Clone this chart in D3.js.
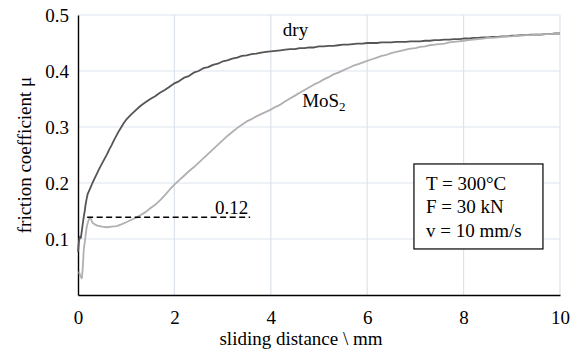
<!DOCTYPE html>
<html><head><meta charset="utf-8">
<script src="https://cdn.jsdelivr.net/npm/d3@7"></script>
<style>
html,body{margin:0;padding:0;background:#fff;}
svg text{font-family:'Liberation Serif','Times New Roman',Times,serif !important;fill:#000;}
</style></head>
<body><svg id="c" width="576" height="356" font-family="Liberation Serif"></svg>
<script>
// ---- data ----
const xTicks = [0, 2, 4, 6, 8, 10];
const yTicks = [0.1, 0.2, 0.3, 0.4, 0.5];
const dryX = [0,0.02,0.04,0.06,0.08,0.1,0.12,0.14,0.16,0.18,0.2,0.25,0.3,0.35,0.4,0.45,0.5,0.55,0.6,0.65,0.7,0.75,0.8,0.85,0.9,0.95,1.0,
1.1,1.2,1.3,1.4,1.5,1.6,1.7,1.8,1.9,2.0,2.1,2.2,2.3,2.4,2.5,2.6,2.7,2.8,2.9,3.0,3.1,3.2,3.3,3.4,3.5,3.6,3.7,3.8,3.9,4.0,
4.1,4.2,4.3,4.4,4.5,4.6,4.7,4.8,4.9,5.0,5.1,5.2,5.3,5.4,5.5,5.6,5.7,5.8,5.9,6.0,6.1,6.2,6.3,6.4,6.5,6.6,6.7,6.8,6.9,7.0,
7.1,7.2,7.3,7.4,7.5,7.6,7.7,7.8,7.9,8.0,8.1,8.2,8.3,8.4,8.5,8.6,8.7,8.8,8.9,9.0,9.1,9.2,9.3,9.4,9.5,9.6,9.7,9.8,9.9,10.0];
const dryY = [0.077,0.096,0.104,0.102,0.115,0.128,0.140,0.150,0.163,0.172,0.180,0.190,0.200,0.209,0.218,0.227,0.235,0.243,0.251,0.260,0.268,0.277,0.285,0.293,0.300,0.307,0.313,
0.322,0.330,0.338,0.344,0.350,0.355,0.361,0.366,0.372,0.378,0.382,0.388,0.391,0.397,0.400,0.405,0.407,0.411,0.413,0.417,0.419,0.422,0.424,0.427,0.428,0.430,0.431,0.433,0.434,0.435,
0.436,0.437,0.438,0.439,0.439,0.441,0.441,0.442,0.442,0.444,0.444,0.445,0.445,0.446,0.447,0.447,0.448,0.449,0.449,0.450,0.450,0.450,0.451,0.451,0.451,0.452,0.452,0.452,0.453,0.453,
0.453,0.454,0.454,0.455,0.455,0.456,0.456,0.457,0.457,0.458,0.458,0.459,0.459,0.460,0.460,0.461,0.461,0.462,0.462,0.463,0.463,0.464,0.464,0.465,0.465,0.465,0.466,0.466,0.467,0.467];
const mosX = [0.02,0.05,0.08,0.1,0.12,0.14,0.16,0.18,0.2,0.23,0.26,0.3,0.35,0.4,0.5,0.6,0.7,0.8,0.9,1.0,
1.1,1.2,1.3,1.4,1.5,1.6,1.7,1.8,1.9,2.0,2.1,2.2,2.3,2.4,2.5,2.6,2.7,2.8,2.9,3.0,3.1,3.2,3.3,3.4,3.5,3.6,3.7,3.8,3.9,4.0,
4.1,4.2,4.3,4.4,4.5,4.6,4.7,4.8,4.9,5.0,5.1,5.2,5.3,5.4,5.5,5.6,5.7,5.8,5.9,6.0,6.1,6.2,6.3,6.4,6.5,6.6,6.7,6.8,6.9,7.0,
7.1,7.2,7.3,7.4,7.5,7.6,7.7,7.8,7.9,8.0,8.1,8.2,8.3,8.4,8.5,8.6,8.7,8.8,8.9,9.0,9.1,9.2,9.3,9.4,9.5,9.6,9.7,9.8,9.9,10.0];
const mosY = [0.042,0.033,0.030,0.050,0.082,0.094,0.108,0.121,0.128,0.136,0.138,0.129,0.126,0.124,0.122,0.121,0.122,0.123,0.126,0.130,
0.134,0.138,0.143,0.148,0.155,0.161,0.169,0.178,0.188,0.197,0.205,0.213,0.221,0.228,0.236,0.244,0.252,0.260,0.268,0.276,0.284,0.291,0.298,0.304,0.310,0.314,0.319,0.323,0.327,0.331,
0.336,0.340,0.346,0.351,0.356,0.361,0.366,0.371,0.376,0.380,0.385,0.389,0.394,0.397,0.401,0.405,0.409,0.412,0.415,0.418,0.421,0.424,0.427,0.429,0.432,0.434,0.436,0.438,0.440,0.441,
0.443,0.444,0.446,0.447,0.448,0.449,0.451,0.452,0.453,0.454,0.455,0.456,0.457,0.458,0.459,0.459,0.460,0.461,0.462,0.462,0.463,0.463,0.464,0.464,0.465,0.465,0.466,0.466,0.467,0.467];
const refLine = {x0: 0.19, x1: 3.57, y: 0.139, label: "0.12"};
const conditions = ["T = 300°C", "F = 30 kN", "v = 10 mm/s"];

// ---- chart ----
const FONT = "'Liberation Serif', 'Times New Roman', serif";
const svg = d3.select("#c");
const m = {l: 78, t: 15, r: 16, b: 61};
const W = 576 - m.l - m.r, H = 356 - m.t - m.b;
const x = d3.scaleLinear().domain([0, 10]).range([m.l, m.l + W]);
const y = d3.scaleLinear().domain([0, 0.5]).range([m.t + H, m.t]);
const gridC = "#dde3eb";

// grid
svg.append("g").selectAll("line").data(yTicks).join("line")
  .attr("x1", x(0)).attr("x2", x(10)).attr("y1", d => y(d)).attr("y2", d => y(d))
  .attr("stroke", gridC).attr("stroke-width", 1.2);
svg.append("g").selectAll("line").data(xTicks.filter(d => d > 0)).join("line")
  .attr("x1", d => x(d)).attr("x2", d => x(d)).attr("y1", y(0)).attr("y2", y(0.5))
  .attr("stroke", gridC).attr("stroke-width", 1.2);

// axes
const xAxis = svg.append("g").attr("transform", `translate(0,${y(0)})`)
  .call(d3.axisBottom(x).tickValues(xTicks).tickSize(0).tickPadding(15.5).tickFormat(d3.format("d")));
const yAxis = svg.append("g").attr("transform", `translate(${x(0)},0)`)
  .call(d3.axisLeft(y).tickValues(yTicks).tickSize(0).tickPadding(9).tickFormat(d3.format(".1f")));
[xAxis, yAxis].forEach(g => {
  g.attr("font-family", null).attr("font-size", null);
  g.select(".domain").attr("stroke", "#000").attr("stroke-width", 1.4);
  g.selectAll("text").style("font-size", "19px").style("font-family", FONT).attr("fill", "#000");
});

// series
const line = d3.line().x(d => x(d[0])).y(d => y(d[1]));
const dry = dryX.map((v, i) => [v, dryY[i]]);
const mos = mosX.map((v, i) => [v, mosY[i]]);
svg.append("path").datum(dry).attr("d", line).attr("fill", "none")
  .attr("stroke", "#555").attr("stroke-width", 1.8).attr("stroke-linejoin", "round");
svg.append("path").datum(mos).attr("d", line).attr("fill", "none")
  .attr("stroke", "#b0b0b0").attr("stroke-width", 1.8).attr("stroke-linejoin", "round");

function label(sel, size) { return sel.style("font-family", FONT).style("font-size", size + "px"); }

// reference dashed line
svg.append("line").attr("x1", x(refLine.x0)).attr("x2", x(refLine.x1))
  .attr("y1", y(refLine.y)).attr("y2", y(refLine.y))
  .attr("stroke", "#000").attr("stroke-width", 1.5).attr("stroke-dasharray", "6,3.5");
label(svg.append("text").attr("x", x(2.84)).attr("y", y(0.145)), 19).text(refLine.label);

// curve labels
label(svg.append("text").attr("x", x(4.25)).attr("y", y(0.4625)), 19).text("dry");
const ml = label(svg.append("text").attr("x", x(4.65)).attr("y", y(0.336)), 19);
ml.append("tspan").text("MoS");
ml.append("tspan").style("font-size", "13px").attr("dy", 4).text("2");

// conditions box
const bx = x(6.97), by = y(0.234);
svg.append("rect").attr("x", bx).attr("y", by).attr("width", 129).attr("height", 85)
  .attr("fill", "#fff").attr("stroke", "#000").attr("stroke-width", 1.2);
label(svg.append("g").selectAll("text").data(conditions).join("text")
  .attr("x", bx + 12).attr("y", (d, i) => by + 26 + i * 23.5), 19).text(d => d);

// axis titles
label(svg.append("text").attr("x", 301).attr("y", 345).attr("text-anchor", "middle"), 19)
  .text("sliding distance \\ mm");
label(svg.append("text").attr("transform", `translate(24,${y(0.25)}) rotate(-90)`).attr("text-anchor", "middle")
  .attr("dy", "0.35em"), 19).text("friction coefficient μ");
</script></body></html>
